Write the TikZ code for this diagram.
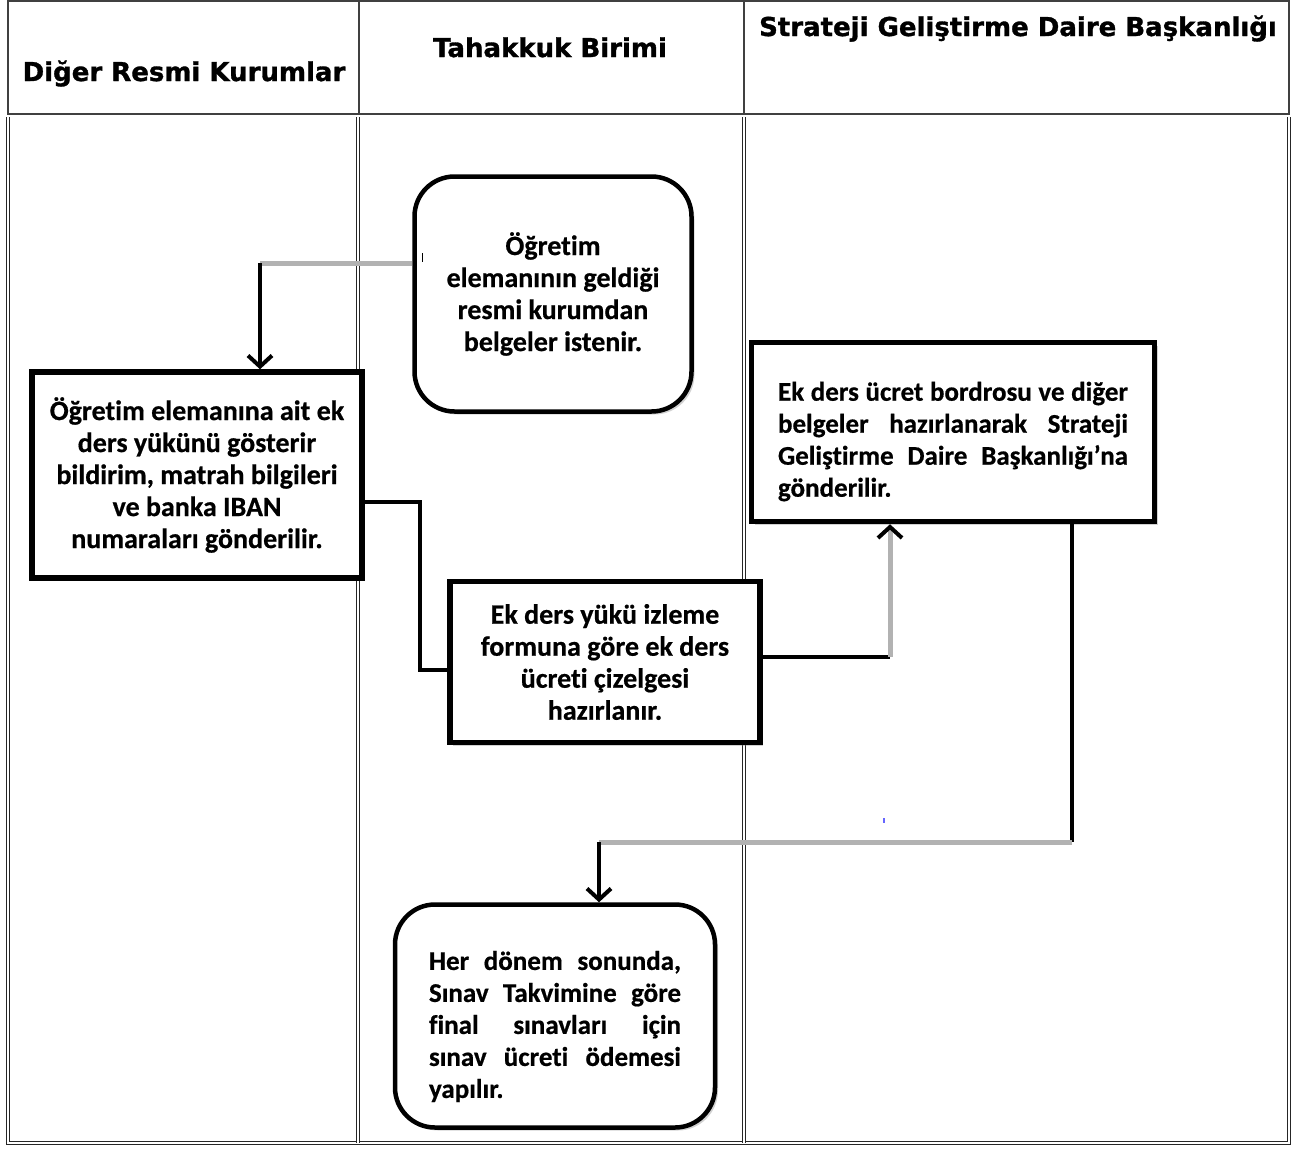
\documentclass[tikz,border=0pt]{standalone}
\usepackage{fontspec}
\setmainfont{Carlito}[Ligatures=NoCommon, BoldFeatures={FakeBold=0.6}]
\newfontfamily\hdrfont{DejaVu Sans}[BoldFeatures={FakeBold=1.2}]
\usetikzlibrary{shadows,arrows.meta}
\begin{document}
\begin{tikzpicture}[x=1pt,y=-1pt,
  frame/.style={draw=black!75, line width=1.3pt},
  dbl/.style={draw=black!85, double=white, double distance=1.6pt, line width=0.9pt},
  hdr/.style={font=\hdrfont\bfseries\fontsize{26}{30}\selectfont, anchor=base, inner sep=0pt},
  box/.style={draw=black, line width=5.5pt, fill=white, font=\bfseries\fontsize{28}{32}\selectfont, align=center, inner sep=0pt, drop shadow={shadow xshift=3pt, shadow yshift=-3pt, opacity=0.35}},
  rbox/.style={box, rounded corners=40pt, line width=4.5pt},
  jfont/.style={font=\bfseries\fontsize{27}{32}\selectfont},
  blk/.style={draw=black, line width=4pt},
  gry/.style={draw=black!30, line width=5pt},
  tip/.style={-{Straight Barb[length=11pt,width=24pt,line width=4pt,color=black]}}
]
\useasboundingbox (0,0) rectangle (1295,1149);
\fill[white] (0,0) rectangle (1295,1149);

% header row
\draw[frame] (8,1) rectangle (1289,114);
\draw[frame] (359,1) -- (359,114);
\draw[frame] (744,1) -- (744,114);
\node[hdr] (h1) at (184,81) {Diğer Resmi Kurumlar};
\node[hdr] (h2) at (550,57) {Tahakkuk Birimi};
\node[hdr] (h3) at (1018,36) {Strateji Geliştirme Daire Başkanlığı};

% body lanes
\draw[dbl] (8,117) -- (8,1143) -- (1289,1143) -- (1289,117);
\draw[dbl] (358,117) -- (358,1143);
\draw[dbl] (744,117) -- (744,1143);

% boxes
\node[rbox, minimum width=277pt, minimum height=235pt] (b1) at (553,294)
  {Öğretim\\elemanının geldiği\\resmi kurumdan\\belgeler istenir.};
\node[box, minimum width=330pt, minimum height=206pt] (b2) at (197,475)
  {Öğretim elemanına ait ek\\ders yükünü gösterir\\bildirim, matrah bilgileri\\ve banka IBAN\\numaraları gönderilir.};
\node[box, minimum width=310pt, minimum height=161pt] (b3) at (605,662)
  {Ek ders yükü izleme\\formuna göre ek ders\\ücreti çizelgesi\\hazırlanır.};
\node[box, jfont, minimum width=403pt, minimum height=179pt, align=left] (b4) at (953,432)
  {\makebox[350pt][s]{\rule{0pt}{38pt}Ek ders ücret bordrosu ve diğer}\\
   \makebox[350pt][s]{belgeler hazırlanarak Strateji}\\
   \makebox[350pt][s]{Geliştirme Daire Başkanlığı’na}\\
   \makebox[350pt][l]{gönderilir.}};
\node[rbox, jfont, minimum width=320pt, minimum height=223pt, align=left] (b5) at (555,1016)
  {\makebox[252pt][s]{\rule{0pt}{40pt}Her dönem sonunda,}\\
   \makebox[252pt][s]{Sınav Takvimine göre}\\
   \makebox[252pt][s]{final sınavları için}\\
   \makebox[252pt][s]{sınav ücreti ödemesi}\\
   \makebox[252pt][l]{yapılır.}};

% connectors
\coordinate (c1) at (260,263);
\draw[gry] (b1.west |- c1) -- (c1);
\draw[blk, tip] (c1) -- (b2.north -| c1);

\coordinate (k1) at (420,502);
\coordinate (k2) at (420,670);
\draw[blk] (b2.east |- k1) -- (k1) -- (k2) -- (b3.west |- k2);

\coordinate (k3) at (890,657);
\draw[blk] (b3.east |- k3) -- (k3);
\draw[gry, tip] (k3) -- (b4.south -| k3);

\coordinate (k4) at (1072,842);
\coordinate (k5) at (599,842);
\draw[blk] (b4.south -| k4) -- (k4);
\draw[gry] (k4) -- (k5);
\draw[blk, tip] (k5) -- (b5.north -| k5);

% small marks
\draw[black, line width=1pt] (422,253) -- (422,262);
\draw[blue!60, line width=1.5pt] (884,818) -- (884,823);
\end{tikzpicture}
\end{document}
